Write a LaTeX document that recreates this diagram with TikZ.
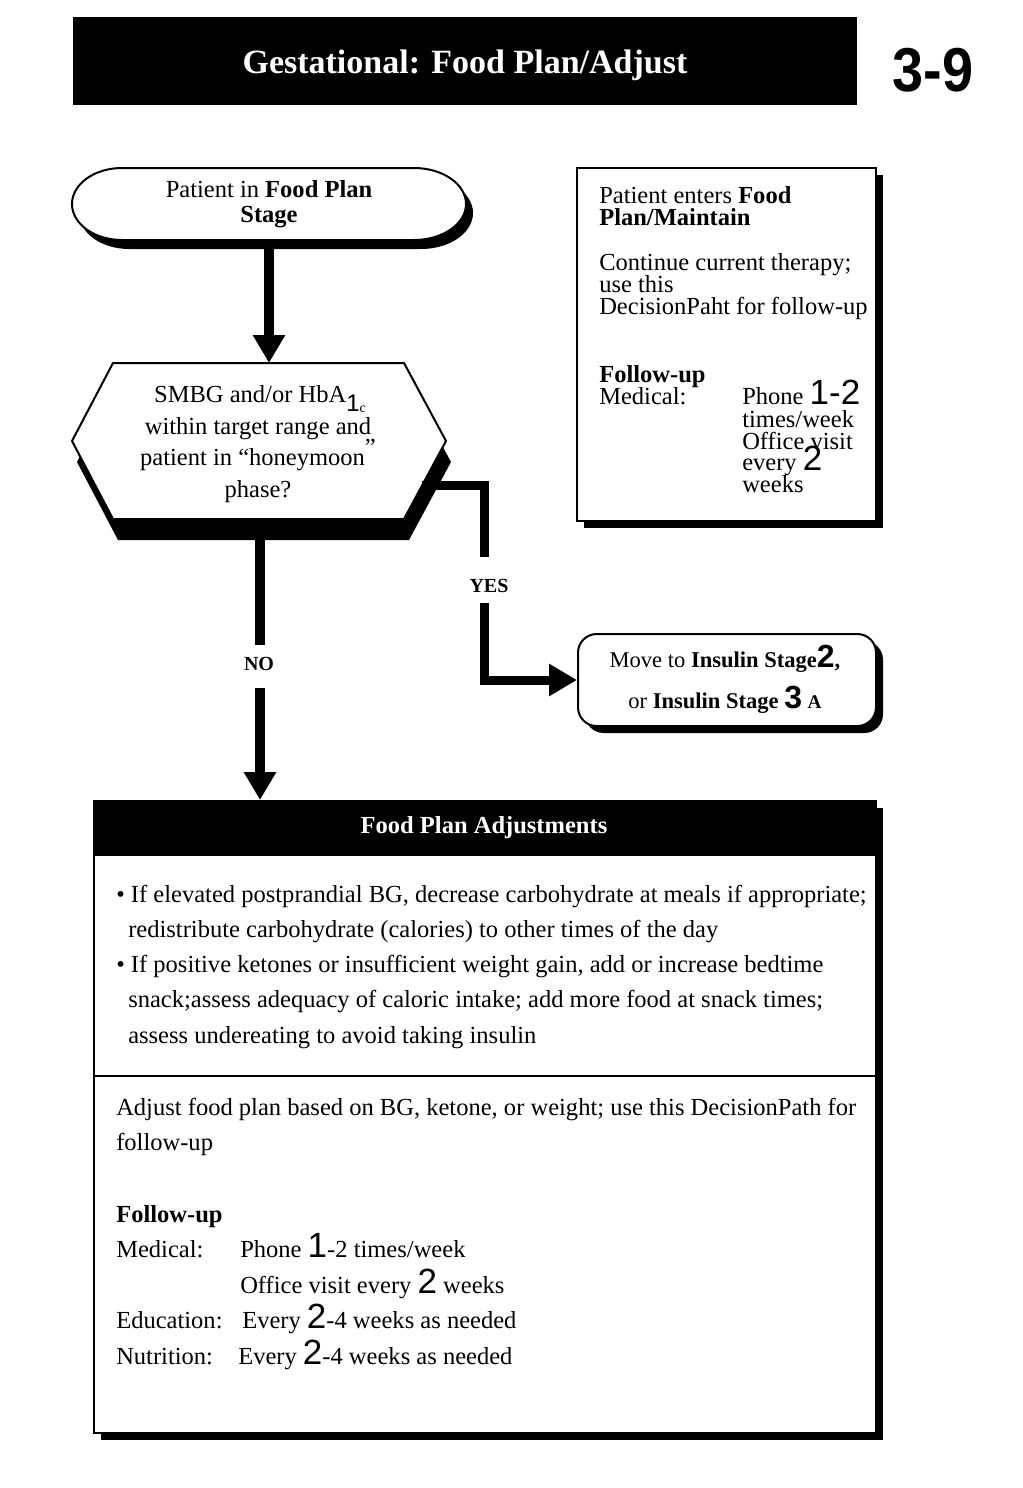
\documentclass[tikz,border=0pt]{standalone}
\usepackage{fontspec}
\setmainfont{Liberation Serif}
\setsansfont{Liberation Sans}
\usetikzlibrary{arrows.meta,shadows}
\newcommand\fsz[2]{\fontsize{#1}{#2}\selectfont}
\newcommand\bignum[1]{{\sffamily\fsz{26.25pt}{26.25pt}#1}}
\newcommand\insnum[1]{{\sffamily\bfseries\fsz{24pt}{24pt}#1}}
\begin{document}
\begin{tikzpicture}[x=0.75pt,y=-0.75pt,
  bw/.style={line width=1.5pt},
  conn/.style={line width=7.5pt},
  connthin/.style={line width=6.75pt},
  tipa/.style={-{Triangle[length=21pt,width=23pt]}},
  shd/.style={general shadow={fill=black, shadow xshift=5.25pt, shadow yshift=-5.25pt}},
  body/.style={inner sep=0pt, font=\fsz{18.4pt}{18.4pt}},
  ltxt/.style={body, anchor=base west},
  ctxt/.style={body, anchor=base},
  lbl/.style={inner sep=0pt, anchor=base, font=\bfseries\fsz{15pt}{15pt}}]

\fill[white] (0,0) rectangle (1023,1488);
\useasboundingbox (0,0) rectangle (1023,1488);

% ---------- header ----------
\node[fill=black, inner sep=0pt, minimum width=784*0.75pt, minimum height=88*0.75pt, anchor=north west] (hdr) at (73,17) {};
\node[inner sep=0pt, anchor=base, text=white, font=\bfseries\fsz{25.5pt}{25.5pt}] (ttl) at (465,74) {Gestational: Food Plan/Adjust};
\node[inner sep=0pt, anchor=base, font=\sffamily\bfseries\fsz{46.5pt}{46.5pt}] (pg) at (933,91) {\scalebox{0.9}[1]{3-9}};

% ---------- start terminal ----------
\begin{scope}[shift={(7,9)}]
  \fill[black] (122,168) -- (414,168) arc[start angle=-90,end angle=90,x radius=52,y radius=36] -- (122,240) arc[start angle=90,end angle=270,x radius=50,y radius=36] -- cycle;
\end{scope}
\draw[bw, fill=white] (122,168) -- (414,168) arc[start angle=-90,end angle=90,x radius=52,y radius=36] -- (122,240) arc[start angle=90,end angle=270,x radius=50,y radius=36] -- cycle;
\node[ctxt] (st1) at (269,197) {Patient in \textbf{Food Plan}};
\node[ctxt] (st2) at (269,222) {\textbf{Stage}};

% ---------- decision hexagon ----------
\begin{scope}[shift={(5,21)}]
  \fill[black] (113,363) -- (404,363) -- (446,441) -- (404,519) -- (113,519) -- (72,441) -- cycle;
\end{scope}
\draw[bw, fill=white] (113,363) -- (404,363) -- (446,441) -- (404,519) -- (113,519) -- (72,441) -- cycle;
\node[ctxt] (hx1) at (260,402) {SMBG and/or HbA{\sffamily\fsz{18pt}{18pt}\raisebox{-7pt}{1}}\raisebox{-8pt}{\fsz{10.5pt}{10.5pt}c}};
\node[ctxt] (hx2) at (258,434) {within target range and};
\node[ctxt] (hx3) at (258,465) {patient in “honeymoon\raisebox{7pt}{”}};
\node[ctxt] (hx4) at (258,497) {phase?};
\coordinate (hxT) at (269,363);
\coordinate (hxR) at (422,485);
\coordinate (hxB) at (260,519);

% ---------- maintain box ----------
\node[draw, bw, fill=white, shd, minimum width=299*0.75pt, minimum height=353*0.75pt, anchor=north west] (mnt) at (576,167) {};
\node[ltxt] (m1) at (599,203) {Patient enters \textbf{Food}};
\node[ltxt] (m2) at (599,225) {\textbf{Plan/Maintain}};
\node[ltxt] (m3) at (599,270) {Continue current therapy;};
\node[ltxt] (m4) at (599,292) {use this};
\node[ltxt] (m5) at (599,314) {DecisionPaht for follow-up};
\node[ltxt] (m6) at (599,382) {\textbf{Follow-up}};
\node[ltxt] (m7) at (599,404) {Medical:};
\node[ltxt] (m8) at (742,404) {Phone \bignum{1-2}};
\node[ltxt] (m9) at (742,427) {times/week};
\node[ltxt] (m10) at (742,449) {Office visit};
\node[ltxt] (m11) at (742,470) {every \bignum{2}};
\node[ltxt] (m12) at (742,492) {weeks};

% ---------- insulin box ----------
\node[draw, bw, fill=white, shd, rounded corners=14pt, minimum width=298*0.75pt, minimum height=92*0.75pt, anchor=north west] (ins) at (577,633) {};
\node[inner sep=0pt, anchor=base, font=\fsz{16.9pt}{16.9pt}] (in1) at (725,667) {Move to \textbf{Insulin Stage}\insnum{2}\textbf{,}};
\node[inner sep=0pt, anchor=base, font=\fsz{16.9pt}{16.9pt}] (in2) at (725,708) {or \textbf{Insulin Stage} \insnum{3} {\bfseries\fsz{14.5pt}{14.5pt}A}};

% ---------- adjustments box ----------
\node[draw, bw, fill=white, shd, minimum width=782*0.75pt, minimum height=632*0.75pt, anchor=north west] (adj) at (93,800) {};
\node[fill=black, inner sep=0pt, minimum width=782*0.75pt, minimum height=56*0.75pt, anchor=north west] (adjh) at (93,800) {};
\node[inner sep=0pt, anchor=base, text=white, font=\bfseries\fsz{18.4pt}{18.4pt}] (adjt) at (484,833) {Food Plan Adjustments};
\coordinate (dvL) at (93,1076);
\coordinate (dvR) at (875,1076);
\draw[line width=2pt] (dvL) -- (dvR);
\node[ltxt] (a1) at (116,902) {• If elevated postprandial BG, decrease carbohydrate at meals if appropriate;};
\node[ltxt] (a2) at (116,937) {\hspace*{9pt}redistribute carbohydrate (calories) to other times of the day};
\node[ltxt] (a3) at (116,972) {• If positive ketones or insufficient weight gain, add or increase bedtime};
\node[ltxt] (a4) at (116,1007) {\hspace*{9pt}snack;assess adequacy of caloric intake; add more food at snack times;};
\node[ltxt] (a5) at (116,1043) {\hspace*{9pt}assess undereating to avoid taking insulin};
\node[ltxt] (b1) at (116,1115) {Adjust food plan based on BG, ketone, or weight; use this DecisionPath for};
\node[ltxt] (b2) at (116,1150) {follow-up};
\node[ltxt] (b3) at (116,1222) {\textbf{Follow-up}};
\node[ltxt] (b4) at (116,1257) {Medical:};
\node[ltxt] (b5) at (240,1257) {Phone \bignum{1}-2 times/week};
\node[ltxt] (b6) at (240,1293) {Office visit every \bignum{2} weeks};
\node[ltxt] (b7) at (116,1328) {Education:};
\node[ltxt] (b8) at (242,1328) {Every \bignum{2}-4 weeks as needed};
\node[ltxt] (b9) at (116,1364) {Nutrition:};
\node[ltxt] (b10) at (238,1364) {Every \bignum{2}-4 weeks as needed};

% ---------- connectors ----------
\coordinate (stB) at (269,240);
\draw[conn, tipa] (stB) -- (hxT);

\coordinate (yesA) at (484,557);
\coordinate (yesB) at (484,603);
\draw[connthin] (hxR) -| (yesA);
\node[lbl] (yes) at (489,592) {YES};
\draw[connthin, tipa] (yesB) |- (ins.west);

\coordinate (noA) at (260,645);
\coordinate (noB) at (260,688);
\draw[conn] (hxB) -- (noA);
\node[lbl] (no) at (259,670) {NO};
\draw[conn, tipa] (noB) -- (noB |- adj.north);
\end{tikzpicture}
\end{document}
